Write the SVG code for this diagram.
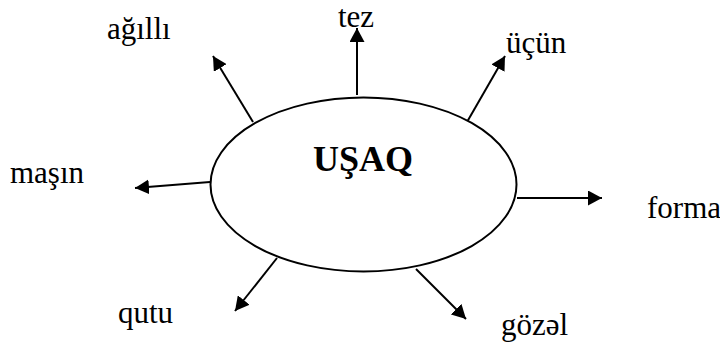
<svg xmlns="http://www.w3.org/2000/svg" width="720" height="342" viewBox="0 0 720 342">
<style>
.lbl{font-family:"Liberation Serif","Times New Roman",serif;font-size:31px;fill:#000}
.title{font-family:"Liberation Serif","Times New Roman",serif;font-size:36px;font-weight:bold;fill:#000}
.conn{stroke:#000;stroke-width:2;fill:none;marker-end:url(#arr)}
</style>
<defs>
<marker id="arr" viewBox="0 0 14 15" refX="14" refY="7.5" markerWidth="14" markerHeight="15" markerUnits="userSpaceOnUse" orient="auto">
<path d="M0,0 L14,7.5 L0,15 z" fill="#000"/>
</marker>
</defs>
<rect width="720" height="342" fill="#fff"/>
<g id="connectors">
<line class="conn" x1="357" y1="95" x2="357" y2="28"/>
<line class="conn" x1="253" y1="122" x2="213" y2="56"/>
<line class="conn" x1="467" y1="122" x2="505" y2="56"/>
<line class="conn" x1="210" y1="182" x2="135" y2="188"/>
<line class="conn" x1="517" y1="198" x2="602" y2="198"/>
<line class="conn" x1="277" y1="258" x2="235" y2="311"/>
<line class="conn" x1="416" y1="269" x2="466" y2="319"/>
</g>
<g id="node-usaq">
<ellipse cx="363.5" cy="184.5" rx="153" ry="87" fill="#fff" stroke="#000" stroke-width="2"/>
<text class="title" x="363" y="171" text-anchor="middle">UŞAQ</text>
</g>
<g id="node-tez"><text class="lbl" x="338" y="27">tez</text></g>
<g id="node-agilli"><text class="lbl" x="107" y="39">ağıllı</text></g>
<g id="node-ucun"><text class="lbl" x="506" y="53">üçün</text></g>
<g id="node-masin"><text class="lbl" x="10" y="183">maşın</text></g>
<g id="node-forma"><text class="lbl" x="647" y="218">forma</text></g>
<g id="node-qutu"><text class="lbl" x="118" y="323">qutu</text></g>
<g id="node-gozel"><text class="lbl" x="501" y="335">gözəl</text></g>
</svg>
